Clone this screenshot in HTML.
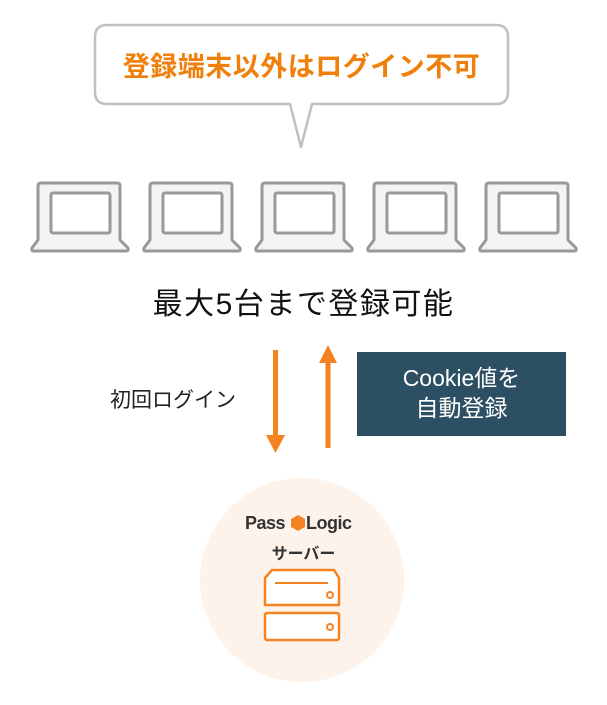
<!DOCTYPE html>
<html><head><meta charset="utf-8"><style>
body{margin:0;width:607px;height:705px;background:#fff;position:relative;overflow:hidden;font-family:"Liberation Sans","Noto Sans CJK JP",sans-serif}
.t{position:absolute;white-space:nowrap}
</style></head><body>
<svg width="607" height="705" style="position:absolute;left:0;top:0">
<path d="M107,25 H496 Q508,25 508,37 V92 Q508,104 496,104 H312 L301,147 L290,104 H107 Q95,104 95,92 V37 Q95,25 107,25 Z" fill="#fff" stroke="#c0c0c0" stroke-width="2.5" stroke-linejoin="round"/>
<g id="lap" fill="#f4f4f4" stroke="#999" stroke-width="3" stroke-linejoin="round">
<path d="M41,183 H117 Q120,183 120,186 V240 L128,248 Q129,251 126,251 H34 Q31,251 32,248 L38,240 V186 Q38,183 41,183 Z"/>
<rect x="51" y="193" width="59" height="40" rx="2" fill="#fff"/>
</g>
<use href="#lap" x="112"/><use href="#lap" x="224"/><use href="#lap" x="336"/><use href="#lap" x="448"/>
<rect x="273" y="350" width="5" height="88" fill="#f58220"/>
<path d="M266,435 H285 L275.5,453 Z" fill="#f58220"/>
<rect x="325.5" y="360" width="5" height="88" fill="#f58220"/>
<path d="M319,363 H337 L328,345 Z" fill="#f58220"/>
<rect x="357" y="352" width="209" height="84" fill="#2c4f63"/>
<circle cx="302" cy="580" r="102" fill="#fdf3ea"/>
<path d="M272,570 H334 L339,578 V605 H265 V578 Z" fill="#fff" stroke="#f58220" stroke-width="2.5" stroke-linejoin="round"/>
<line x1="275" y1="583" x2="328" y2="583" stroke="#f58220" stroke-width="2"/>
<circle cx="330" cy="595" r="3" fill="none" stroke="#f58220" stroke-width="2"/>
<rect x="265" y="613" width="74" height="27" rx="2" fill="#fff" stroke="#f58220" stroke-width="2.5"/>
<circle cx="330" cy="627" r="3" fill="none" stroke="#f58220" stroke-width="2"/>
<path d="M291,519 l7,-4 7,4 v8 l-7,4 -7,-4z" fill="#f58220"/>
</svg>
<div class="t" style="left:95px;width:413px;top:45px;text-align:center;font-size:27px;font-weight:bold;color:#f07f0c;letter-spacing:0.5px">登録端末以外はログイン不可</div>
<div class="t" style="left:0;width:607px;top:279px;text-align:center;font-size:30px;color:#111;letter-spacing:1.5px">最大5台まで登録可能</div>
<div class="t" style="left:110px;top:384px;font-size:21px;color:#222">初回ログイン</div>
<div class="t" style="left:357px;width:209px;top:363px;text-align:center;font-size:23px;line-height:30px;color:#fff">Cookie値を<br>自動登録</div>
<div class="t" style="left:245px;top:513px;font-size:18px;font-weight:bold;color:#333;letter-spacing:-0.5px">Pass</div>
<div class="t" style="left:306px;top:513px;font-size:18px;font-weight:bold;color:#333;letter-spacing:-0.5px">Logic</div>
<div class="t" style="left:0;width:607px;top:540px;text-align:center;font-size:16px;font-weight:bold;color:#333">サーバー</div>
</body></html>
